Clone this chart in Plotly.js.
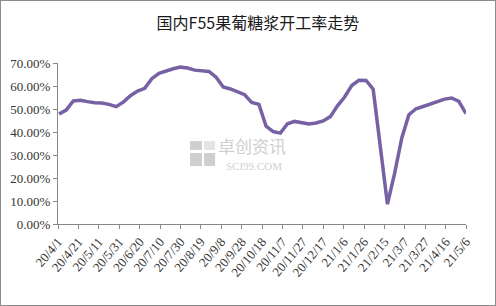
<!DOCTYPE html>
<html><head><meta charset="utf-8">
<script src="https://cdn.plot.ly/plotly-3.0.1.min.js"></script>
<style>
html,body{margin:0;padding:0;background:#fff;}
#frame{width:494px;height:304px;border:1px solid #8c8c8c;}
</style>
</head><body>
<div id="frame"><div id="chart"></div></div>
<script>
var dates = ["2020-04-02","2020-04-09","2020-04-16","2020-04-23","2020-04-30",
"2020-05-07","2020-05-14","2020-05-21","2020-05-28",
"2020-06-04","2020-06-11","2020-06-18","2020-06-25",
"2020-07-02","2020-07-09","2020-07-16","2020-07-23","2020-07-30",
"2020-08-06","2020-08-13","2020-08-20","2020-08-27",
"2020-09-03","2020-09-10","2020-09-17","2020-09-24",
"2020-10-01","2020-10-08","2020-10-15","2020-10-22","2020-10-29",
"2020-11-05","2020-11-12","2020-11-19","2020-11-26",
"2020-12-03","2020-12-10","2020-12-17","2020-12-24","2020-12-31",
"2021-01-07","2021-01-14","2021-01-21","2021-01-28",
"2021-02-04","2021-02-11","2021-02-18","2021-02-25",
"2021-03-04","2021-03-11","2021-03-18","2021-03-25",
"2021-04-01","2021-04-08","2021-04-15","2021-04-22","2021-04-29",
"2021-05-06"];
var rate = [47.8,49.5,53.5,53.8,53.2,52.7,52.6,52.0,51.0,53.0,
55.8,57.8,59.0,63.2,65.5,66.7,67.5,68.2,67.8,66.9,
66.6,66.3,63.8,59.6,58.7,57.3,56.2,52.8,52.0,42.5,
40.2,39.5,43.6,44.6,44.2,43.5,43.9,44.8,46.7,51.4,
55.2,60.2,62.5,62.4,58.6,32.2,8.6,22.0,37.3,47.5,
50.1,51.1,52.3,53.4,54.3,54.8,53.3,48.0];
var tickDates = ["2020-04-01","2020-04-21","2020-05-11","2020-05-31","2020-06-20",
"2020-07-10","2020-07-30","2020-08-19","2020-09-08","2020-09-28","2020-10-18",
"2020-11-07","2020-11-27","2020-12-17","2021-01-06","2021-01-26","2021-02-15",
"2021-03-07","2021-03-27","2021-04-16","2021-05-06"];
var tickText = ["20/4/1","20/4/21","20/5/11","20/5/31","20/6/20","20/7/10","20/7/30",
"20/8/19","20/9/8","20/9/28","20/10/18","20/11/7","20/11/27","20/12/17","21/1/6",
"21/1/26","21/2/15","21/3/7","21/3/27","21/4/16","21/5/6"];
var yTicks = [0,10,20,30,40,50,60,70];
var yText = ["0.00%","10.00%","20.00%","30.00%","40.00%","50.00%","60.00%","70.00%"];
var titleText = "国内F55果葡糖浆开工率走势";

var trace = {x: dates, y: rate, type: "scatter", mode: "lines",
  line: {color: "#7860a4", width: 3.5}, hoverinfo: "skip"};

var wm = "#cfcfcf";
var layout = {
  width: 494, height: 304,
  margin: {l: 57, r: 29, t: 62, b: 81},
  paper_bgcolor: "#fff", plot_bgcolor: "#fff",
  showlegend: false,
  title: {text: titleText, x: 0.52, xanchor: "center", y: 0.925, yanchor: "middle",
    font: {family: "Noto Sans CJK SC", size: 16, color: "#1a1a1a"}},
  xaxis: {type: "date", range: ["2020-04-01","2021-05-06"],
    tickmode: "array", tickvals: tickDates, ticktext: tickText,
    tickangle: -50, ticks: "outside", ticklen: 4, tickcolor: "#888",
    showline: true, linecolor: "#888", linewidth: 1, showgrid: false, zeroline: false,
    tickfont: {family: "Liberation Serif", size: 13, color: "#333"}},
  yaxis: {range: [0, 70], tickmode: "array", tickvals: yTicks, ticktext: yText,
    ticks: "outside", ticklen: 4, tickcolor: "#888",
    showline: true, linecolor: "#888", linewidth: 1, showgrid: false, zeroline: false,
    tickfont: {family: "Liberation Serif", size: 13, color: "#333"}},
  annotations: [
    {xref: "paper", yref: "paper", x: 0.475, y: 0.49, text: "卓创资讯", showarrow: false,
     font: {family: "Noto Sans CJK SC", size: 17, color: wm}},
    {xref: "paper", yref: "paper", x: 0.48, y: 0.36, text: "SCI99.COM", showarrow: false,
     font: {family: "Liberation Serif", size: 11, color: wm}}
  ],
  shapes: [
    {type: "rect", xref: "paper", yref: "paper", x0: 0.3235, x1: 0.353, y0: 0.46, y1: 0.515, fillcolor: wm, line: {width: 0}, layer: "below"},
    {type: "rect", xref: "paper", yref: "paper", x0: 0.358, x1: 0.385, y0: 0.46, y1: 0.515, fillcolor: "#e4e4e4", line: {width: 0}, layer: "below"},
    {type: "rect", xref: "paper", yref: "paper", x0: 0.3235, x1: 0.353, y0: 0.36, y1: 0.441, fillcolor: wm, line: {width: 0}, layer: "below"},
    {type: "rect", xref: "paper", yref: "paper", x0: 0.358, x1: 0.385, y0: 0.36, y1: 0.441, fillcolor: wm, line: {width: 0}, layer: "below"}
  ]
};
Plotly.newPlot("chart", [trace], layout, {staticPlot: true, displayModeBar: false});
</script>
</body></html>
